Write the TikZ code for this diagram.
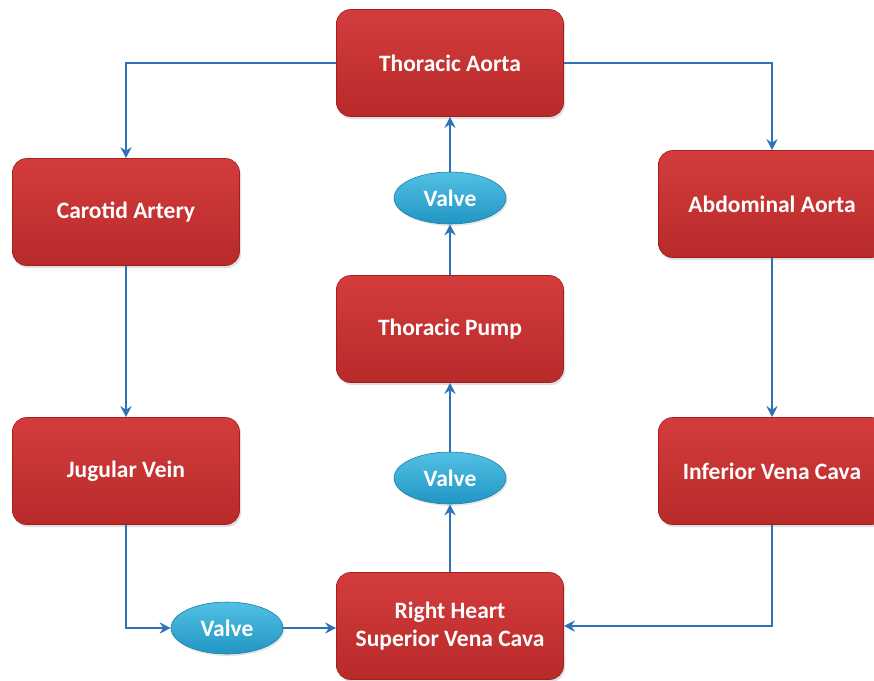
\documentclass[tikz,border=0pt]{standalone}
\usepackage{fontspec}
\setmainfont{Carlito}
\usetikzlibrary{shapes.geometric,arrows.meta,shadows}

\definecolor{boxtop}{HTML}{D43C3C}
\definecolor{boxbot}{HTML}{B82A2A}
\definecolor{boxedge}{HTML}{A02020}
\definecolor{linkblue}{HTML}{2E72B8}
\definecolor{valvetop}{HTML}{52C0E4}
\definecolor{valvebot}{HTML}{2196C4}

\begin{document}
\begin{tikzpicture}[x=1pt,y=-1pt,
  redbox/.style={rectangle, rounded corners=14pt, minimum width=227pt, minimum height=107pt,
    top color=boxtop, bottom color=boxbot, draw=boxedge, line width=0.6pt,
    text=white, font=\bfseries\fontsize{23.5}{28}\selectfont, align=center,
    drop shadow={shadow xshift=1.5pt, shadow yshift=-2.5pt, opacity=0.25}},
  valve/.style={ellipse, minimum width=112pt, minimum height=52pt, inner sep=0pt,
    top color=valvetop, bottom color=valvebot, draw=valvebot!85!black, line width=0.6pt,
    text=white, font=\bfseries\fontsize{23.5}{28}\selectfont,
    drop shadow={shadow xshift=1.5pt, shadow yshift=-2pt, opacity=0.2}},
  link/.style={draw=linkblue, line width=2.6pt, -{Stealth[length=11pt,width=11pt]}}
]
\useasboundingbox (0,0) rectangle (874,680);

\node[redbox] (TA) at (450,63) {Thoracic Aorta};
\node[redbox] (CA) at (126,212) {Carotid Artery};
\node[redbox] (AA) at (772,204) {Abdominal Aorta};
\node[redbox] (TP) at (450,329) {Thoracic Pump};
\node[redbox] (JV) at (126,471) {Jugular Vein};
\node[redbox] (IVC) at (772,471) {Inferior Vena Cava};
\node[redbox] (RH) at (450,626) {Right Heart\\Superior Vena Cava};

\node[valve] (V1) at (450,198) {Valve};
\node[valve] (V2) at (450,478) {Valve};
\node[valve] (V3) at (227,628) {Valve};

\draw[link] (TA.west) -| (CA.north);
\draw[link] (TA.east) -| (AA.north);
\draw[link] (CA.south) -- (JV.north);
\draw[link] (AA.south) -- (IVC.north);
\draw[link] (JV.south) |- (V3.west);
\draw[link] (V3.east) -- (V3.east -| RH.west);
\draw[link] (IVC.south) |- (RH.east);
\draw[link] (RH.north) -- (V2.south);
\draw[link] (V2.north) -- (TP.south);
\draw[link] (TP.north) -- (V1.south);
\draw[link] (V1.north) -- (TA.south);
\end{tikzpicture}
\end{document}
